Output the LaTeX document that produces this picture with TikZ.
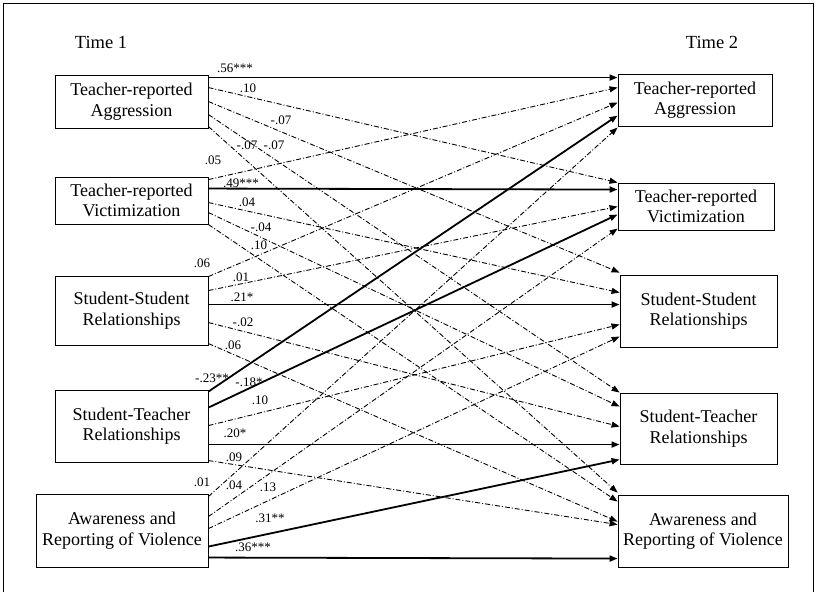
\documentclass[tikz,border=0pt]{standalone}
\usepackage{fontspec}
\setmainfont{Liberation Serif}
\usetikzlibrary{arrows.meta}
\tikzset{
  box/.style={draw, line width=0.9pt, align=center, inner sep=0pt, font=\fontsize{18}{20.5}\selectfont},
  coef/.style={font=\fontsize{13}{15}\selectfont, inner sep=0pt},
  timelab/.style={font=\fontsize{18.5}{20}\selectfont, inner sep=0pt},
  sarr/.style={line width=1.8pt, -{Triangle[length=8pt,width=6pt]}},
  darr/.style={line width=0.9pt, dash pattern=on 5pt off 2pt on 1pt off 2pt, -{Triangle[length=8pt,width=6pt]}},
}
\begin{document}
\begin{tikzpicture}[x=1pt,y=-1pt]
\useasboundingbox (0,0) rectangle (816,592);
\draw[line width=1pt] (3,592) -- (3,3) -- (813,3) -- (813,592);
\node[timelab] (t1) at (101,42) {Time 1};
\node[timelab] (t2) at (712,42) {Time 2};
% left boxes
\node[box, minimum width=153pt, minimum height=53pt] (L1) at (131.5,101.5) {Teacher-reported\\Aggression};
\node[box, minimum width=153pt, minimum height=47pt] (L2) at (131.5,200.5) {Teacher-reported\\Victimization};
\node[box, minimum width=153pt, minimum height=69pt] (L3) at (131.5,310.5) {Student-Student\\Relationships};
\node[box, minimum width=153pt, minimum height=72pt] (L4) at (131.5,426) {Student-Teacher\\Relationships};
\node[box, minimum width=172pt, minimum height=73pt] (L5) at (122,530.5) {Awareness and\\Reporting of Violence};
% right boxes
\node[box, minimum width=154pt, minimum height=52pt] (R1) at (695,100) {Teacher-reported\\Aggression};
\node[box, minimum width=156pt, minimum height=47pt] (R2) at (696,206.5) {Teacher-reported\\Victimization};
\node[box, minimum width=157pt, minimum height=72pt] (R3) at (698.5,311) {Student-Student\\Relationships};
\node[box, minimum width=157pt, minimum height=71pt] (R4) at (698.5,428.5) {Student-Teacher\\Relationships};
\node[box, minimum width=170pt, minimum height=72pt] (R5) at (703,531) {Awareness and\\Reporting of Violence};
% from L1
\draw[sarr] ([yshift=-3pt]L1.north east) -- ([yshift=-4pt]R1.north west);
\draw[darr] ([yshift=-13pt]L1.north east) -- ([yshift=0pt]R2.north west);
\draw[darr] ([yshift=-27pt]L1.north east) -- ([yshift=2pt]R3.north west);
\draw[darr] ([yshift=-40pt]L1.north east) -- ([yshift=0pt]R4.north west);
\draw[darr] ([yshift=-52pt]L1.north east) -- ([yshift=2pt]R5.north west);
% from L2
\draw[darr] ([yshift=-3pt]L2.north east) -- ([yshift=-14pt]R1.north west);
\draw[sarr] ([yshift=-12pt]L2.north east) -- ([yshift=-7pt]R2.north west);
\draw[darr] ([yshift=-26pt]L2.north east) -- ([yshift=-18pt]R3.north west);
\draw[darr] ([yshift=-36pt]L2.north east) -- ([yshift=-14pt]R4.north west);
\draw[darr] ([yshift=-48pt]L2.north east) -- ([yshift=-7pt]R5.north west);
% from L3
\draw[darr] ([yshift=-1pt]L3.north east) -- ([yshift=-29pt]R1.north west);
\draw[darr] ([yshift=-15pt]L3.north east) -- ([yshift=-24pt]R2.north west);
\draw[sarr] ([yshift=-29pt]L3.north east) -- ([yshift=-30pt]R3.north west);
\draw[darr] ([yshift=-47pt]L3.north east) -- ([yshift=-34pt]R4.north west);
\draw[darr] ([yshift=-68pt]L3.north east) -- ([yshift=-27pt]R5.north west);
% from L4
\draw[sarr] ([yshift=-2pt]L4.north east) -- ([yshift=-42pt]R1.north west);
\draw[sarr] ([yshift=-18pt]L4.north east) -- ([yshift=-32pt]R2.north west);
\draw[darr] ([yshift=-36pt]L4.north east) -- ([yshift=-50pt]R3.north west);
\draw[sarr] ([yshift=-55pt]L4.north east) -- ([yshift=-52pt]R4.north west);
\draw[darr] ([yshift=-71pt]L4.north east) -- ([yshift=-30pt]R5.north west);
% from L5
\draw[darr] ([yshift=-3pt]L5.north east) -- ([yshift=-54pt]R1.north west);
\draw[darr] ([yshift=-23pt]L5.north east) -- ([yshift=-46pt]R2.north west);
\draw[darr] ([yshift=-35pt]L5.north east) -- ([yshift=-62pt]R3.north west);
\draw[sarr] ([yshift=-53pt]L5.north east) -- ([yshift=-67pt]R4.north west);
\draw[sarr] ([yshift=-64pt]L5.north east) -- ([yshift=-64pt]R5.north west);
% coefficients
\node[coef] (c1) at (235,68) {.56***};
\node[coef] (c2) at (248,88) {.10};
\node[coef] (c3) at (281,120) {-.07};
\node[coef] (c4) at (247,145) {-.07};
\node[coef] (c5) at (274,145) {-.07};
\node[coef] (c6) at (213,160) {.05};
\node[coef] (c7) at (241,183) {.49***};
\node[coef] (c8) at (247,202) {.04};
\node[coef] (c9) at (261,227) {-.04};
\node[coef] (c10) at (259,245) {.10};
\node[coef] (c11) at (202,263) {.06};
\node[coef] (c12) at (241,277) {.01};
\node[coef] (c13) at (242,297) {.21*};
\node[coef] (c14) at (243,322) {-.02};
\node[coef] (c15) at (233,345) {.06};
\node[coef] (c16) at (212,378) {-.23**};
\node[coef] (c17) at (249,382) {-.18*};
\node[coef] (c18) at (260,400) {.10};
\node[coef] (c19) at (235,433) {.20*};
\node[coef] (c20) at (234,457) {.09};
\node[coef] (c21) at (202,482) {.01};
\node[coef] (c22) at (234,485) {.04};
\node[coef] (c23) at (268,487) {.13};
\node[coef] (c24) at (270,518) {.31**};
\node[coef] (c25) at (253,547) {.36***};
\end{tikzpicture}
\end{document}
